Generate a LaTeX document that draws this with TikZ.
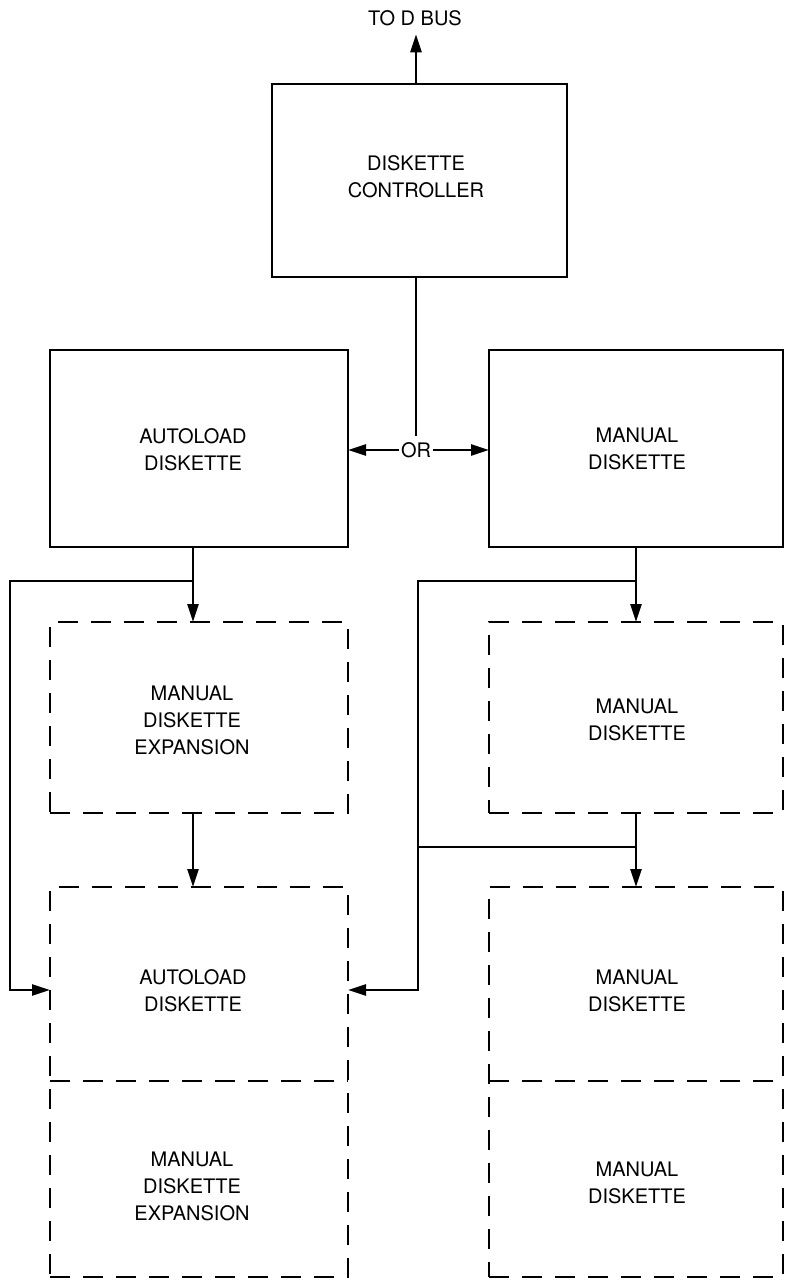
\documentclass[tikz,border=0pt]{standalone}
\usepackage{fontspec}
\setmainfont{TeX Gyre Heros}
\usetikzlibrary{arrows.meta}
\begin{document}
\begin{tikzpicture}[x=1pt,y=-1pt,
  box/.style={draw, line width=2.4pt, inner sep=0pt, outer sep=0pt},
  dbox/.style={box, dash pattern=on 20pt off 13pt},
  dline/.style={line width=2.4pt, dash pattern=on 20pt off 13pt},
  lbl/.style={align=center, inner sep=0pt, font=\fontsize{20}{27}\selectfont},
  conn/.style={line width=2.5pt},
  arr/.style={conn, -{Triangle[length=18pt,width=11pt]}}]
\useasboundingbox (0,0) rectangle (785,1288);

% boxes
\node[box, minimum width=295pt, minimum height=193pt] (ctrl) at (419.5,180.5) {};
\node[box, minimum width=298pt, minimum height=197pt] (auto) at (199,448.5) {};
\node[box, minimum width=294pt, minimum height=197pt] (man) at (636,448.5) {};
\node[dbox, minimum width=298pt, minimum height=191pt] (mde) at (199,717.5) {};
\node[dbox, minimum width=294pt, minimum height=191pt] (man2) at (636,717.5) {};
\node[dbox, minimum width=298pt, minimum height=390pt] (lowL) at (199,1082) {};
\node[dbox, minimum width=294pt, minimum height=390pt] (lowR) at (636,1082) {};
\coordinate (divL) at (199,1081);
\coordinate (divR) at (636,1081);
\draw[dline] (divL -| lowL.west) -- (divL -| lowL.east);
\draw[dline] (divR -| lowR.west) -- (divR -| lowR.east);

% texts
\node[lbl] (bus) at (415,18) {TO D BUS};
\node[lbl] (tctrl) at (416,177) {DISKETTE\\CONTROLLER};
\node[lbl] (tauto) at (193,450) {AUTOLOAD\\DISKETTE};
\node[lbl] (tman) at (637,449) {MANUAL\\DISKETTE};
\node[lbl] (tmde) at (192,720) {MANUAL\\DISKETTE\\EXPANSION};
\node[lbl] (tman2) at (637,720) {MANUAL\\DISKETTE};
\node[lbl] (tla) at (193,991) {AUTOLOAD\\DISKETTE};
\node[lbl] (tlb) at (192,1186) {MANUAL\\DISKETTE\\EXPANSION};
\node[lbl] (tra) at (637,991) {MANUAL\\DISKETTE};
\node[lbl] (trb) at (637,1183) {MANUAL\\DISKETTE};
\node[lbl, inner sep=2pt] (or) at (416,450) {OR};

% coordinates
\coordinate (jL) at (193,581);
\coordinate (cL1) at (10,581);
\coordinate (cL2) at (10,990);
\coordinate (jR) at (636,581);
\coordinate (cR1) at (418,581);
\coordinate (cR2) at (418,990);
\coordinate (jR2) at (636,847);

% connectors
\draw[arr] (ctrl.north -| or) -- ([yshift=-8.5pt]bus.south -| or);
\draw[conn] (ctrl.south -| or) -- ([yshift=4pt]or.north);
\draw[arr] (or.west) -- (auto.east |- or);
\draw[arr] (or.east) -- (man.west |- or);

\draw[conn] (auto.south -| jL) -- (jL);
\draw[arr] (jL) -- (jL |- mde.north);
\draw[arr] (jL) -- (cL1) -- (cL2) -- (cL2 -| lowL.west);
\draw[arr] (jL |- mde.south) -- (jL |- lowL.north);

\draw[conn] (man.south) -- (jR);
\draw[arr] (jR) -- (man2.north);
\draw[arr] (jR) -- (cR1) -- (cR2) -- (cR2 -| lowL.east);
\draw[conn] (man2.south) -- (jR2);
\draw[conn] (cR1 |- jR2) -- (jR2);
\draw[arr] (jR2) -- (lowR.north);
\end{tikzpicture}
\end{document}
